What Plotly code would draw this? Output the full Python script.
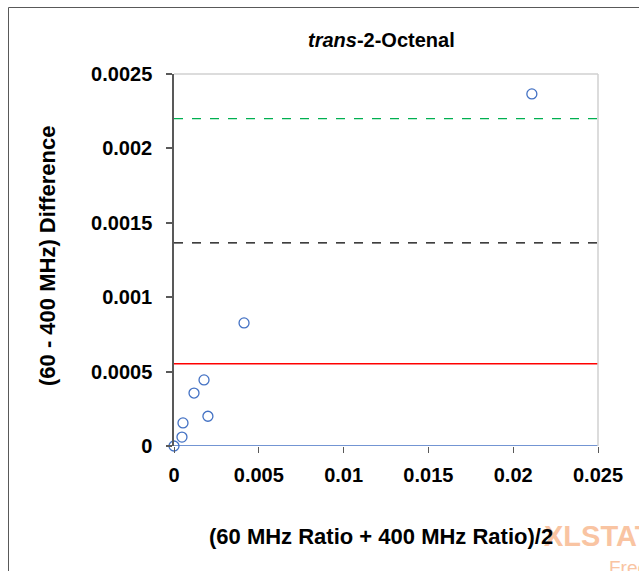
import plotly.graph_objects as go

# Data
x_vals = [0.0, 0.00047, 0.00053, 0.00118, 0.00177, 0.0020, 0.00413, 0.0211]
y_vals = [0.0, 0.00006, 0.000155, 0.000356, 0.000444, 0.0002, 0.000827, 0.002366]

line_x = [0.0, 0.025]
green_level = 0.0022
black_level = 0.001365
red_level = 0.000553
blue_level = 0.0

x_ticks = [0, 0.005, 0.01, 0.015, 0.02, 0.025]
x_tick_text = ["0", "0.005", "0.01", "0.015", "0.02", "0.025"]
y_ticks = [0, 0.0005, 0.001, 0.0015, 0.002, 0.0025]
y_tick_text = ["0", "0.0005", "0.001", "0.0015", "0.002", "0.0025"]

FONT = "Liberation Sans, Arial, sans-serif"

# body margin is removed by post_script -> figure fills the window
W, H = 639, 571
L, R, T, B = 174, 41, 74, 125
PW, PH = W - L - R, H - T - B


def px(xp):  # page x pixel -> paper x
    return (xp - L) / PW


def py(yp):  # page y pixel -> paper y
    return (H - B - yp) / PH


fig = go.Figure()
fig.add_trace(go.Scatter(x=line_x, y=[blue_level] * 2, mode="lines",
                         line=dict(color="#4472C4", width=1.5), showlegend=False))
fig.add_trace(go.Scatter(x=line_x, y=[red_level] * 2, mode="lines",
                         line=dict(color="#FF0000", width=1.5), showlegend=False))
fig.add_trace(go.Scatter(x=line_x, y=[black_level] * 2, mode="lines",
                         line=dict(color="#000000", width=1.3, dash="dash"), showlegend=False))
fig.add_trace(go.Scatter(x=line_x, y=[green_level] * 2, mode="lines",
                         line=dict(color="#00B050", width=1.3, dash="dash"), showlegend=False))
fig.add_trace(go.Scatter(x=x_vals, y=y_vals, mode="markers",
                         marker=dict(symbol="circle-open", size=10, color="#4472C4",
                                     line=dict(width=1.3, color="#4472C4")),
                         showlegend=False, cliponaxis=False))

fig.update_layout(
    width=W, height=H,
    margin=dict(l=L, r=R, t=T, b=B),
    paper_bgcolor="white", plot_bgcolor="white",
    font=dict(family=FONT, size=20, color="#000000"),
    xaxis=dict(range=[0, 0.025], tickvals=x_ticks,
               ticktext=["<b>%s</b>" % t for t in x_tick_text],
               showgrid=False, zeroline=False, showline=False,
               ticks="outside", ticklen=6, tickcolor="#595959", tickwidth=1,
               ticklabelstandoff=5,
               tickfont=dict(size=20, family=FONT)),
    yaxis=dict(range=[0, 0.0025], tickvals=y_ticks,
               ticktext=["<b>%s</b>" % t for t in y_tick_text],
               showgrid=False, zeroline=False, showline=True, linecolor="#595959",
               linewidth=1.5, ticks="outside", ticklen=6, tickcolor="#595959",
               tickwidth=1.5, ticklabelstandoff=10,
               tickfont=dict(size=20, family=FONT)),
)

# watermark (drawn first so that the axis title sits on top of it)
fig.add_annotation(text="<b>XLSTAT</b>", xref="paper", yref="paper",
                   x=px(542), y=py(536), xanchor="left", yanchor="middle",
                   showarrow=False, font=dict(size=29, color="#F9C4A2", family=FONT))
fig.add_annotation(text="Free", xref="paper", yref="paper",
                   x=px(607), y=py(567), xanchor="left", yanchor="middle",
                   showarrow=False, font=dict(size=19, color="#F9C4A2", family=FONT))

# title
fig.add_annotation(text="<b><i>trans</i>-2-Octenal</b>", xref="paper", yref="paper",
                   x=px(381), y=py(40), xanchor="center", yanchor="middle",
                   showarrow=False, font=dict(size=20, family=FONT, color="#000000"))
# axis titles
fig.add_annotation(text="<b>(60 MHz Ratio + 400 MHz Ratio)/2</b>", xref="paper", yref="paper",
                   x=px(381), y=py(536), xanchor="center", yanchor="middle",
                   showarrow=False, font=dict(size=22, family=FONT, color="#000000"))
fig.add_annotation(text="<b>(60 - 400 MHz) Difference</b>", xref="paper", yref="paper",
                   x=px(47), y=py(256), xanchor="center", yanchor="middle", textangle=-90,
                   showarrow=False, font=dict(size=22, family=FONT, color="#000000"))

# plot area border (top & right, light gray)
fig.add_shape(type="line", xref="paper", yref="paper", x0=0, x1=1, y0=1, y1=1,
              line=dict(color="#D0D0D0", width=1.5))
fig.add_shape(type="line", xref="paper", yref="paper", x0=1, x1=1, y0=0, y1=1,
              line=dict(color="#D0D0D0", width=1.5))

# outer chart border
fig.add_shape(type="rect", xref="paper", yref="paper",
              x0=px(8.5), x1=1.5, y0=-1, y1=py(7.5),
              line=dict(color="#595959", width=1), layer="below")

fig.write_html("out.html", config={"displayModeBar": False},
               post_script="document.body.style.margin='0';document.body.style.overflow='hidden';")
